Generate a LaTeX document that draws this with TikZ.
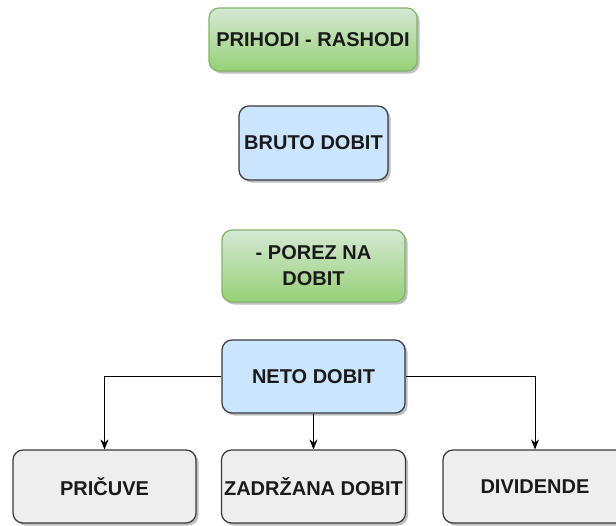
\documentclass[tikz,border=0pt]{standalone}
\usepackage{fontspec}
\setmainfont{Liberation Sans}
\usetikzlibrary{arrows.meta,shadows}
\definecolor{greentop}{HTML}{D5E8D4}
\definecolor{greenbot}{HTML}{97D077}
\definecolor{greenline}{HTML}{82B366}
\definecolor{bluefill}{HTML}{CCE5FF}
\definecolor{grayfill}{HTML}{EEEEEE}
\definecolor{boxline}{HTML}{36393D}
\definecolor{txt}{HTML}{1A1A1A}
\tikzset{
  box/.style={rectangle, rounded corners=10pt, inner sep=0pt, line width=1.2pt,
    align=center, text=txt, font=\bfseries\fontsize{20}{26}\selectfont,
    drop shadow={shadow xshift=2.5pt, shadow yshift=-2.5pt, fill=black, opacity=0.25}},
  greenbox/.style={box, draw=greenline, top color=greentop, bottom color=greenbot},
  bluebox/.style={box, draw=boxline, fill=bluefill},
  graybox/.style={box, draw=boxline, fill=grayfill},
  conn/.style={draw=black, line width=1pt, -{Stealth[length=10pt,width=8pt]}}
}
\begin{document}
\begin{tikzpicture}[x=1pt,y=-1pt]
\useasboundingbox (0,0) rectangle (616,525);
\clip (0,0) rectangle (616,525);
\fill[white] (0,0) rectangle (616,525);
\node[greenbox, minimum width=208pt, minimum height=63pt] (prih) at (313,39.5) {PRIHODI - RASHODI};
\node[bluebox, minimum width=149pt, minimum height=74pt] (bruto) at (313.5,143) {BRUTO DOBIT};
\node[greenbox, minimum width=183pt, minimum height=72pt] (porez) at (313.5,266) {- POREZ NA\\DOBIT};
\node[bluebox, minimum width=183pt, minimum height=73pt] (neto) at (313.5,376.5) {NETO DOBIT};
\node[graybox, minimum width=183pt, minimum height=73pt] (pric) at (104.5,486.5) {PRIČUVE};
\node[graybox, minimum width=184pt, minimum height=73pt] (zadr) at (313.5,486.5) {ZADRŽANA DOBIT};
\node[graybox, minimum width=184pt, minimum height=73pt] (divi) at (535,486.5) {DIVIDENDE};
\draw[conn] (neto.west) -| (pric.north);
\draw[conn] (neto.south) -- (zadr.north);
\draw[conn] (neto.east) -| (divi.north);
\end{tikzpicture}
\end{document}
